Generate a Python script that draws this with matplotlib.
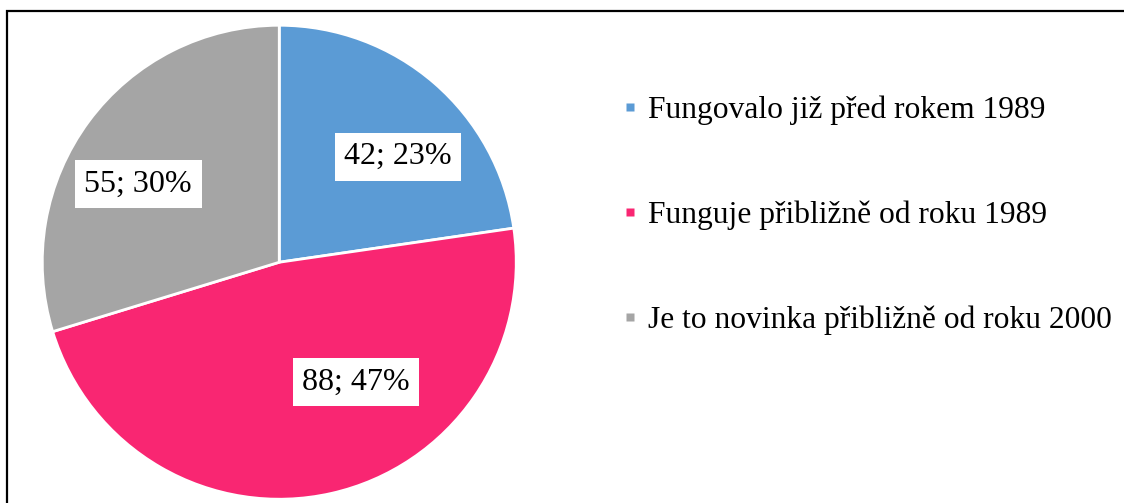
import numpy as np
import matplotlib
matplotlib.use('Agg')
import matplotlib.pyplot as plt
from matplotlib.lines import Line2D
from matplotlib.patches import Rectangle

plt.rcParams['font.family'] = ['Liberation Serif', 'DejaVu Serif']

# data
categories = ['Fungovalo již před rokem 1989',
              'Funguje přibližně od roku 1989',
              'Je to novinka přibližně od roku 2000']
counts = [42, 88, 55]
percents = [23, 47, 30]
colors = ['#5B9BD5', '#F92672', '#A5A5A5']

# Excel "best fit" label spots: (angle shift from slice middle, radius fraction)
label_shift = [-7.5, 20.0, 7.5]
label_radius = [0.67, 0.60, 0.68]

fig = plt.figure(figsize=(11.24, 5.03), dpi=100)

# frame round the chart area
fig.patches.append(Rectangle((7 / 1124, -0.05), 1.1, 1 - 10.5 / 503 + 0.05,
                             transform=fig.transFigure, fill=False,
                             edgecolor='black', linewidth=1.6))

ax = fig.add_axes([0.0376, 0.0075, 0.4217, 0.9423])
wedges, _ = ax.pie(counts, colors=colors, startangle=90, counterclock=False,
                   radius=1.0, wedgeprops=dict(edgecolor='white', linewidth=2))
ax.set_xlim(-1, 1)
ax.set_ylim(-1, 1)
ax.set_aspect('equal')
ax.axis('off')

for w, n, p, sh, r in zip(wedges, counts, percents, label_shift, label_radius):
    mid = np.deg2rad((w.theta1 + w.theta2) / 2 + sh)
    ax.text(r * np.cos(mid), r * np.sin(mid), f'{n}; {p}%',
            ha='center', va='center', fontsize=23,
            bbox=dict(boxstyle='square,pad=0.3', facecolor='white', edgecolor='none'))

handles = [Line2D([], [], linestyle='none', marker='s', markersize=6,
                  markerfacecolor=c, markeredgecolor='none') for c in colors]
fig.legend(handles, categories, loc='center left',
           bbox_to_anchor=(622 / 1124, 1 - 215 / 503), frameon=False,
           fontsize=22.7, handlelength=0.48, handletextpad=0.33,
           labelspacing=2.4, borderpad=0, borderaxespad=0)

fig.savefig('out.png', dpi=100)
